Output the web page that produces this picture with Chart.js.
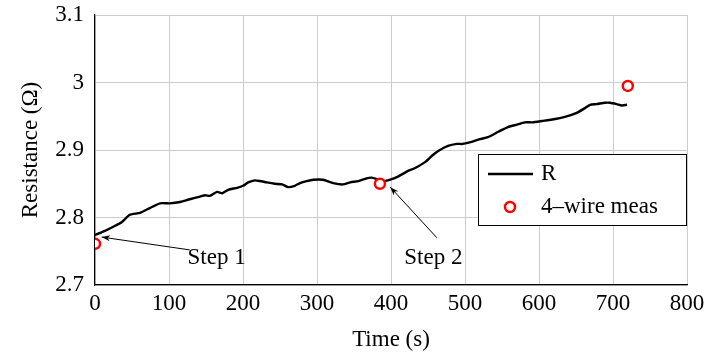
<!DOCTYPE html>
<html>
<head>
<meta charset="utf-8">
<script src="https://cdn.jsdelivr.net/npm/chart.js@4.4.1/dist/chart.umd.min.js"></script>
<style>
  html, body { margin: 0; padding: 0; background: #fff; }
  #wrap { width: 709px; height: 359px; position: relative; }
</style>
</head>
<body>
<div id="wrap"><canvas id="resChart"></canvas></div>
<script>
// Resistance trace over time (s)
const timeS = [0, 11, 24, 36, 47, 61, 74, 88, 101, 115, 128, 142, 149, 155, 165, 172, 180, 192, 200, 207,
  216, 223, 232, 243, 253, 261, 270, 277, 286, 295, 308, 322, 335, 345, 356, 367, 374, 383, 392, 399,
  410, 423, 432, 446, 457, 466, 477, 489, 497, 509, 520, 531, 545, 558, 568, 581, 591, 604, 622, 635,
  651, 662, 669, 678, 689, 696, 705, 712, 719];
const resistance = [2.774, 2.779, 2.786, 2.793, 2.804, 2.807, 2.814, 2.821, 2.821, 2.823, 2.827, 2.831, 2.833,
  2.832, 2.838, 2.836, 2.841, 2.844, 2.847, 2.852, 2.855, 2.854, 2.852, 2.850, 2.849, 2.845, 2.847, 2.851,
  2.854, 2.856, 2.856, 2.851, 2.849, 2.852, 2.854, 2.858, 2.859, 2.856, 2.854, 2.856, 2.861, 2.869, 2.873,
  2.882, 2.893, 2.900, 2.906, 2.909, 2.909, 2.912, 2.916, 2.919, 2.927, 2.934, 2.937, 2.941, 2.941, 2.943,
  2.946, 2.949, 2.955, 2.962, 2.967, 2.968, 2.970, 2.970, 2.968, 2.966, 2.967];

// 4-wire reference measurements
const measTime = [0, 385, 720];
const measRes = [2.761, 2.850, 2.995];

const xTicks = [0, 100, 200, 300, 400, 500, 600, 700, 800];
const yTicks = [2.7, 2.8, 2.9, 3.0, 3.1];

// step annotations: text position and arrow tail/head in data units
const steps = [
  { label: 'Step 1', text: [125, 2.740], tail: [128, 2.752], head: [9, 2.771] },
  { label: 'Step 2', text: [418, 2.740], tail: [462, 2.770], head: [399, 2.845] }
];

const FONT = '"Liberation Serif", "DejaVu Serif", serif';
const SIZE = 23;

const annotate = {
  id: 'annotate',
  afterDatasetsDraw(chart) {
    const { ctx, scales: { x, y } } = chart;
    ctx.save();
    ctx.strokeStyle = '#000';
    ctx.fillStyle = '#000';
    ctx.lineWidth = 1;
    ctx.font = SIZE + 'px ' + FONT;
    ctx.textBaseline = 'middle';
    steps.forEach(s => {
      const tx = x.getPixelForValue(s.tail[0]), ty = y.getPixelForValue(s.tail[1]);
      const hx = x.getPixelForValue(s.head[0]), hy = y.getPixelForValue(s.head[1]);
      ctx.beginPath();
      ctx.moveTo(tx, ty);
      ctx.lineTo(hx, hy);
      ctx.stroke();
      const a = Math.atan2(hy - ty, hx - tx);
      ctx.beginPath();
      ctx.moveTo(hx, hy);
      ctx.lineTo(hx - 9 * Math.cos(a - 0.35), hy - 9 * Math.sin(a - 0.35));
      ctx.lineTo(hx - 6 * Math.cos(a), hy - 6 * Math.sin(a));
      ctx.lineTo(hx - 9 * Math.cos(a + 0.35), hy - 9 * Math.sin(a + 0.35));
      ctx.closePath();
      ctx.fill();
      ctx.fillText(s.label, x.getPixelForValue(s.text[0]), y.getPixelForValue(s.text[1]));
    });

    // legend box in the lower right of the plot
    const bx = 478, by = 154, bw = chart.chartArea.right - bx, bh = 72;
    ctx.fillStyle = '#fff';
    ctx.fillRect(bx, by, bw, bh);
    ctx.strokeStyle = '#000';
    ctx.strokeRect(bx + 0.5, by + 0.5, bw - 1, bh - 1);
    ctx.lineWidth = 2.4;
    ctx.beginPath();
    ctx.moveTo(488, 174);
    ctx.lineTo(533, 174);
    ctx.stroke();
    ctx.strokeStyle = '#ff0000';
    ctx.lineWidth = 2.5;
    ctx.beginPath();
    ctx.arc(510, 207, 5, 0, Math.PI * 2);
    ctx.stroke();
    ctx.fillStyle = '#000';
    ctx.fillText('R', 541, 174);
    ctx.fillText('4–wire meas', 541, 207);
    ctx.restore();
  }
};

new Chart(document.getElementById('resChart'), {
  type: 'scatter',
  data: {
    datasets: [
      {
        label: '4–wire meas',
        data: measTime.map((t, i) => ({ x: t, y: measRes[i] })),
        borderColor: '#ff0000',
        backgroundColor: '#ffffff',
        borderWidth: 2.5,
        pointRadius: 5,
        order: 0
      },
      {
        label: 'R',
        data: timeS.map((t, i) => ({ x: t, y: resistance[i] })),
        showLine: true,
        borderColor: '#000',
        borderWidth: 2.4,
        borderJoinStyle: 'round',
        pointRadius: 0,
        tension: 0.2,
        order: 1
      }
    ]
  },
  options: {
    responsive: true,
    maintainAspectRatio: false,
    animation: false,
    layout: { padding: { left: 0, right: 22, top: 15, bottom: 0 } },
    plugins: { legend: { display: false }, tooltip: { enabled: false } },
    scales: {
      x: {
        type: 'linear',
        min: 0,
        max: 800,
        afterBuildTicks: s => { s.ticks = xTicks.map(v => ({ value: v })); },
        afterFit: s => { s.height = 74; s.paddingLeft = 0; s.paddingRight = 0; },
        grid: { color: '#cccccc', drawTicks: false },
        border: { color: '#000', width: 1.2 },
        ticks: { color: '#000', padding: 5, font: { family: FONT, size: SIZE } },
        title: { display: true, text: 'Time (s)', color: '#000', padding: { top: 0, bottom: 5 }, font: { family: FONT, size: SIZE } }
      },
      y: {
        min: 2.7,
        max: 3.1,
        afterBuildTicks: s => { s.ticks = yTicks.map(v => ({ value: v })); },
        afterFit: s => { s.width = 95; s.paddingTop = 0; s.paddingBottom = 0; },
        grid: { color: '#cccccc', drawTicks: false },
        border: { color: '#000', width: 1.2 },
        ticks: { color: '#000', padding: 11, font: { family: FONT, size: SIZE }, callback: v => String(+v.toFixed(1)) },
        title: { display: true, text: 'Resistance (Ω)', color: '#000', padding: { top: 17, bottom: 0 }, font: { family: FONT, size: SIZE } }
      }
    }
  },
  plugins: [annotate]
});
</script>
</body>
</html>
